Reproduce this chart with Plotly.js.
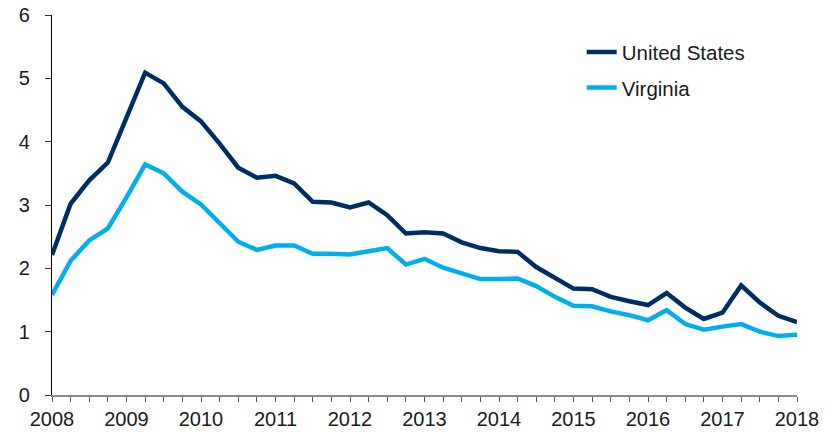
<!DOCTYPE html>
<html>
<head>
<meta charset="utf-8">
<script src="https://cdn.plot.ly/plotly-3.0.1.min.js"></script>
<style>html,body{margin:0;padding:0;background:#fff;}#chart{width:837px;height:432px;}</style>
</head>
<body>
<div id="chart"></div>
<script>
// Quarterly observations, 2008 Q1 .. 2018 Q1 (decimal years)
const quarters = [
  2008.00, 2008.25, 2008.50, 2008.75,
  2009.00, 2009.25, 2009.50, 2009.75,
  2010.00, 2010.25, 2010.50, 2010.75,
  2011.00, 2011.25, 2011.50, 2011.75,
  2012.00, 2012.25, 2012.50, 2012.75,
  2013.00, 2013.25, 2013.50, 2013.75,
  2014.00, 2014.25, 2014.50, 2014.75,
  2015.00, 2015.25, 2015.50, 2015.75,
  2016.00, 2016.25, 2016.50, 2016.75,
  2017.00, 2017.25, 2017.50, 2017.75,
  2018.00
];
const unitedStates = [
  2.21, 3.02, 3.39, 3.67,
  4.38, 5.09, 4.92, 4.55,
  4.32, 3.97, 3.59, 3.43,
  3.46, 3.34, 3.05, 3.04,
  2.96, 3.04, 2.84, 2.55,
  2.57, 2.55, 2.41, 2.32,
  2.27, 2.26, 2.02, 1.86,
  1.68, 1.67, 1.55, 1.48,
  1.42, 1.61, 1.38, 1.20,
  1.30, 1.73, 1.46, 1.25,
  1.15
];
const virginia = [
  1.58, 2.12, 2.44, 2.63,
  3.12, 3.64, 3.50, 3.21,
  3.01, 2.71, 2.42, 2.29,
  2.36, 2.36, 2.23, 2.23,
  2.22, 2.27, 2.32, 2.06,
  2.15, 2.01, 1.92, 1.83,
  1.83, 1.84, 1.72, 1.55,
  1.41, 1.40, 1.32, 1.26,
  1.18, 1.34, 1.12, 1.03,
  1.08, 1.12, 1.00, 0.93,
  0.95
];
const seriesNames = ["United States", "Virginia"];
const yTicks = [0, 1, 2, 3, 4, 5, 6];
const titleText = "Insured Unemployment Rate, Quarterly Average";

const font = "Liberation Sans, Arial, Helvetica, sans-serif";

const traces = [
  {x: quarters, y: unitedStates, name: seriesNames[0], type: "scatter", mode: "lines",
   line: {color: "#002D5F", width: 4.5}, legendgroup: "a"},
  {x: quarters, y: virginia, name: seriesNames[1], type: "scatter", mode: "lines",
   line: {color: "#00AEEF", width: 4.5}, legendgroup: "b"}
];

const layout = {
  width: 837, height: 432,
  margin: {l: 52, r: 40, t: 15, b: 37, pad: 0},
  paper_bgcolor: "#ffffff", plot_bgcolor: "#ffffff",
  font: {family: font, size: 20, color: "#1a1a1a"},
  showlegend: true,
  legend: {x: 0.711, y: 0.955, xanchor: "left", yanchor: "top",
           bgcolor: "rgba(0,0,0,0)", font: {family: font, size: 20.5, color: "#1a1a1a"},
           tracegroupgap: 6, itemwidth: 30},
  xaxis: {
    range: [2008, 2018], tickmode: "linear", tick0: 2008, dtick: 1, tickformat: "d",
    showgrid: false, zeroline: false, showline: true, linecolor: "#8a8a8a", linewidth: 1.5,
    ticks: "outside", ticklen: 5, tickcolor: "#555", tickwidth: 1,
    minor: {dtick: 0.25, tick0: 2008, ticks: "outside", ticklen: 5, tickcolor: "#555", tickwidth: 1, showgrid: false},
    tickfont: {family: font, size: 20, color: "#1a1a1a"},
    fixedrange: true
  },
  yaxis: {
    range: [0, 6], tickmode: "array", tickvals: yTicks, ticktext: yTicks.map(String),
    showgrid: false, zeroline: false, showline: true, linecolor: "#000", linewidth: 1.2,
    ticks: "outside", ticklen: 6, tickcolor: "#333", tickwidth: 1,
    ticklabelstandoff: 11,
    tickfont: {family: font, size: 20, color: "#1a1a1a"},
    fixedrange: true
  },
  annotations: [{
    text: titleText, xref: "paper", yref: "paper", x: 0.541, y: 1,
    xanchor: "center", yanchor: "bottom", yshift: 13, showarrow: false,
    font: {family: font, size: 18, color: "#1a1a1a"}
  }]
};

Plotly.newPlot("chart", traces, layout, {displayModeBar: false, staticPlot: true});
</script>
</body>
</html>
